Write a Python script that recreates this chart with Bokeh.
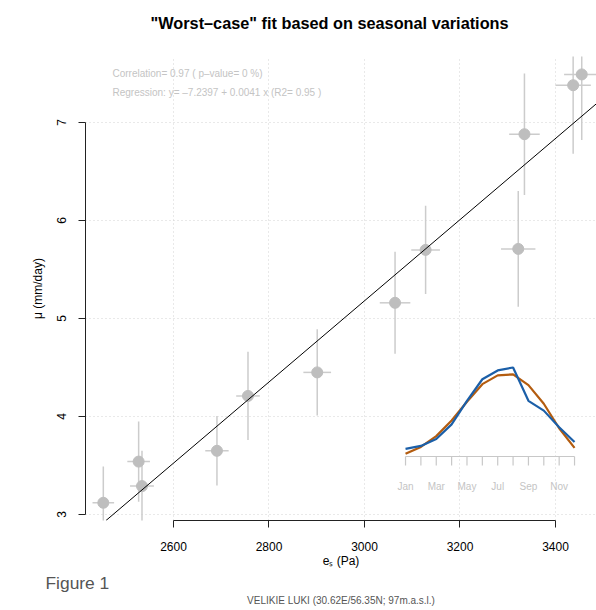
from bokeh.plotting import figure
from bokeh.models import Range1d, Label, Slope, FixedTicker, Title
from bokeh.embed import file_html
from bokeh.resources import INLINE
from bokeh.core.properties import value

# monthly points: saturation vapour pressure (Pa) vs mu (mm/day)
es = [2453, 2527, 2534, 2691, 2756, 2901, 3064, 3128, 3322, 3335, 3437, 3455]
es_err = [22.6, 23.7, 25.0, 24.5, 24.7, 29.0, 32.0, 30.0, 36.0, 32.0, 37.0, 37.0]
mu = [3.12, 3.54, 3.29, 3.65, 4.21, 4.45, 5.16, 5.70, 5.71, 6.88, 7.38, 7.49]
mu_err = [0.37, 0.41, 0.36, 0.355, 0.45, 0.44, 0.52, 0.45, 0.59, 0.62, 0.70, 0.67]

x_ticks = [2600, 2800, 3000, 3200, 3400]
y_ticks = [3, 4, 5, 6, 7]

intercept = -7.2397
slope = 0.00414

# inset: seasonal cycle
months = [1, 2, 3, 4, 5, 6, 7, 8, 9, 10, 11, 12]
month_labels = ["Jan", "Mar", "May", "Jul", "Sep", "Nov"]
month_label_pos = [1, 3, 5, 7, 9, 11]
inset_blue = [3.67, 3.70, 3.77, 3.92, 4.16, 4.38, 4.47, 4.50, 4.16, 4.06, 3.89, 3.74]
inset_brown = [3.62, 3.69, 3.80, 3.96, 4.15, 4.33, 4.42, 4.43, 4.32, 4.13, 3.88, 3.68]
inset_axis_y = 3.592
inset_tick_y = 3.50

FONT = "Liberation Sans"

p = figure(width=596, height=610, output_backend="svg", toolbar_location=None,
           x_range=Range1d(2415.7, 3485.9), y_range=Range1d(2.939, 7.673),
           min_border_left=85, min_border_right=0, min_border_top=56,
           min_border_bottom=90)
p.outline_line_color = None
p.background_fill_color = "white"
p.border_fill_color = "white"

# the empty second line lifts the title away from the frame
p.title.text = '"Worst–case" fit based on seasonal variations\n'
p.title.text_font = FONT
p.title.text_font_size = "16.3px"
p.title.text_font_style = "bold"
p.title.text_color = "black"
p.title.align = "left"
p.title.offset = 65
p.title.standoff = 14
p.title.vertical_align = "bottom"

for ax, ticks in ((p.xaxis, x_ticks), (p.yaxis, y_ticks)):
    ax.ticker = FixedTicker(ticks=ticks)
    ax.bounds = (ticks[0], ticks[-1])
    ax.major_tick_out = 7
    ax.major_tick_in = 0
    ax.minor_tick_line_color = None
    ax.axis_line_color = "#222222"
    ax.major_tick_line_color = "#222222"
    ax.major_label_text_font = FONT
    ax.major_label_text_font_size = "12px"
    ax.major_label_text_color = "black"
    ax.axis_label_text_font = FONT
    ax.axis_label_text_font_size = "12px"
    ax.axis_label_text_font_style = "normal"
    ax.axis_label_text_color = "black"

p.xaxis.major_label_standoff = 14
p.xaxis.axis_label = "eₛ (Pa)"
p.xaxis.axis_label_standoff = 0
p.yaxis.major_label_orientation = "vertical"
p.yaxis.major_label_standoff = 12
p.yaxis.axis_label = "μ (mm/day)"
p.yaxis.axis_label_standoff = 10

p.xgrid.ticker = FixedTicker(ticks=x_ticks)
p.ygrid.ticker = FixedTicker(ticks=y_ticks)
for g in (p.xgrid, p.ygrid):
    g.grid_line_color = "#d3d3d3"
    g.grid_line_dash = "1 3"
    g.grid_line_width = 1

# error bars
x0 = [e - d for e, d in zip(es, es_err)]
x1 = [e + d for e, d in zip(es, es_err)]
y0 = [m - d for m, d in zip(mu, mu_err)]
y1 = [m + d for m, d in zip(mu, mu_err)]
p.segment(x0=x0, y0=mu, x1=x1, y1=mu, line_color="#cccccc", line_width=1.5)
p.segment(x0=es, y0=y0, x1=es, y1=y1, line_color="#cccccc", line_width=1.5)
p.scatter(es, mu, size=11, fill_color="#bebebe", line_color="#bebebe")

p.add_layout(Slope(gradient=slope, y_intercept=intercept, line_color="black", line_width=1))

# inset
p.extra_x_ranges = {"inset": Range1d(-19.83, 13.43)}
p.segment(x0=[months[0]], y0=[inset_axis_y], x1=[months[-1]], y1=[inset_axis_y],
          x_range_name="inset", line_color="#c8c8c8", line_width=1.2)
p.segment(x0=months, y0=[inset_axis_y] * 12, x1=months, y1=[inset_tick_y] * 12,
          x_range_name="inset", line_color="#c8c8c8", line_width=1.2)
p.text(x=month_label_pos, y=[inset_axis_y] * len(month_label_pos), text=month_labels,
       x_range_name="inset", y_offset=30, text_align="center", text_baseline="middle",
       text_font=value(FONT), text_font_size="10px", text_color="#c4c4c4")
p.line(months, inset_brown, x_range_name="inset", line_color="#b35c0f", line_width=2.2)
p.line(months, inset_blue, x_range_name="inset", line_color="#1b5fa8", line_width=2.2)

# texts inside the frame
def lab(txt, x, y, size, color):
    p.add_layout(Label(x=x, y=y, x_units="screen", y_units="screen", text=txt,
                       text_font=FONT, text_font_size=size, text_color=color,
                       text_align="left", text_baseline="middle"))

lab("Correlation= 0.97 ( p–value= 0 %)", 27, 447, "10px", "#c4c4c4")
lab("Regression: y= –7.2397 + 0.0041 x (R2= 0.95 )", 27, 428, "10px", "#c4c4c4")

# texts below the axis
p.add_layout(Title(text="Figure 1", align="left", offset=-40, standoff=0,
                   text_font=FONT, text_font_size="17.4px", text_font_style="normal",
                   text_color="#555555"), "below")
p.add_layout(Title(text="VELIKIE LUKI (30.62E/56.35N; 97m.a.s.l.)", align="center",
                   standoff=0, text_font=FONT, text_font_size="10px",
                   text_font_style="normal", text_color="#555555"), "below")

open("out.html", "w").write(file_html(p, INLINE))
